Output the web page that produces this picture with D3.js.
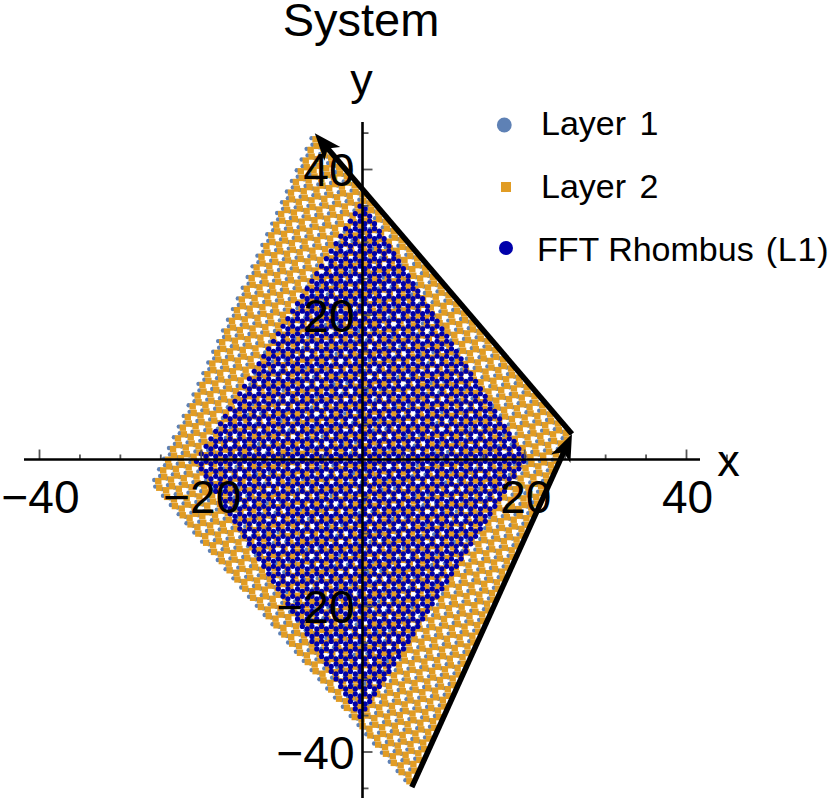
<!doctype html>
<html>
<head>
<meta charset="utf-8">
<style>
    html, body { margin: 0; padding: 0; background: white; }
    svg { display: block; }
    text { font-family: "Liberation Sans", Arial, sans-serif; fill: black; }
</style>
<script src="https://d3js.org/d3.v7.min.js"></script>
</head>
<body>
<svg id="chart" width="831" height="798"></svg>
<script>
// values
var majorTicks = [-40, -20, 20, 40];
var minorTicks = [-45, -35, -30, -25, -15, -10, -5, 5, 10, 15, 25, 30, 35, 45];
var legendLabels = ["Layer 1", "Layer 2", "FFT Rhombus (L1)"];
// corners of the sample, order: bottom, right, top, left
var outerX = [6.1, 25.9, -5.9, -26.0];
var outerY = [-44.9, 3.6, 44.9, -3.6];
// corners of the FFT rhombus, order: bottom, right, top, left
var innerX = [0, 20.78, 0, -20.78];
var innerY = [-36, 0, 36, 0];
// honeycomb sites cannot be read one by one, they are enumerated from lattice constants
var outerLattice = 1.588, outerTwist = 7.5;
var fftLattice = 1.19;
var layer1ShiftX = -0.5, layer1ShiftY = 0.15;
var fftOriginX = -0.3, fftOriginY = 0.2;

var svg = d3.select("#chart");
var x = d3.scaleLinear().domain([-40, 40]).range([39, 686]);
var y = d3.scaleLinear().domain([-40, 40]).range([751.5, 169]);

function sites(xs, ys, a, twist, ox, oy) {
    var ex = xs[1] - xs[0], ey = ys[1] - ys[0];
    var fx = xs[3] - xs[0], fy = ys[3] - ys[0];
    var det = ex * fy - ey * fx;
    var bond = a / Math.sqrt(3);
    var c = Math.cos(twist * Math.PI / 180), s = Math.sin(twist * Math.PI / 180);
    var out = [];
    for (var i = -90; i <= 90; i++) {
        for (var j = -90; j <= 90; j++) {
            [0, 1].forEach(function(b) {
                var qx = a * (i + j / 2);
                var qy = 1.5 * bond * j + b * bond - bond / 2;
                var px = c * qx - s * qy + ox;
                var py = s * qx + c * qy + oy;
                var u = ((px - xs[0]) * fy - (py - ys[0]) * fx) / det;
                var v = (ex * (py - ys[0]) - ey * (px - xs[0])) / det;
                if (u >= 0 && u < 1 && v >= 0 && v < 1) out.push([px, py]);
            });
        }
    }
    return out;
}

var layer2 = sites(outerX, outerY, outerLattice, outerTwist, 0, 0);
var layer1 = layer2.map(function(d) { return [d[0] + layer1ShiftX, d[1] + layer1ShiftY]; });
var fft = sites(innerX, innerY, fftLattice, 0, fftOriginX, fftOriginY);

svg.append("g").selectAll("circle")
    .data(layer1).enter().append("circle")
    .attr("cx", function(d) { return x(d[0]); })
    .attr("cy", function(d) { return y(d[1]); })
    .attr("r", 2.2)
    .attr("fill", "#5E81B5");

svg.append("g").selectAll("rect")
    .data(layer2).enter().append("rect")
    .attr("x", function(d) { return x(d[0]) - 3.2; })
    .attr("y", function(d) { return y(d[1]) - 3.2; })
    .attr("width", 6.4)
    .attr("height", 6.4)
    .attr("fill", "#E19C24");

svg.append("g").selectAll("circle")
    .data(fft).enter().append("circle")
    .attr("cx", function(d) { return x(d[0]); })
    .attr("cy", function(d) { return y(d[1]); })
    .attr("r", 2.6)
    .attr("fill", "#0000AA");

// axes
function drawAxis(g, gen) {
    g.call(gen);
    g.select(".domain").remove();
    g.selectAll("line").attr("stroke", "#555").attr("stroke-width", 1.8);
}
var xRow = svg.append("g").attr("transform", "translate(0,459.5)");
var yCol = svg.append("g").attr("transform", "translate(362.5,0)");
drawAxis(xRow.append("g"), d3.axisTop(x).tickValues(minorTicks).tickSize(5).tickFormat(""));
drawAxis(xRow.append("g"), d3.axisTop(x).tickValues(majorTicks).tickSize(10).tickFormat(""));
drawAxis(yCol.append("g"), d3.axisRight(y).tickValues(minorTicks).tickSize(6).tickFormat(""));
drawAxis(yCol.append("g"), d3.axisRight(y).tickValues(majorTicks).tickSize(10).tickFormat(""));

xRow.append("line").attr("x1", 24).attr("x2", 700).attr("stroke", "black").attr("stroke-width", 2.6);
yCol.append("line").attr("y1", 122).attr("y2", 798).attr("stroke", "black").attr("stroke-width", 2.6);

// arrows: bottom to right corner, right to top corner
svg.append("defs").append("marker")
    .attr("id", "head")
    .attr("markerUnits", "userSpaceOnUse")
    .attr("markerWidth", 34).attr("markerHeight", 28)
    .attr("viewBox", "-30 -14 32 28")
    .attr("refX", 0).attr("refY", 0)
    .attr("orient", "auto")
    .append("path")
    .attr("d", "M0,0L-27,-10.5L-20,0L-27,10.5Z")
    .attr("fill", "black");

[[0, 1], [1, 2]].forEach(function(c) {
    var x0 = x(outerX[c[0]]), y0 = y(outerY[c[0]]);
    var x1 = x(outerX[c[1]]), y1 = y(outerY[c[1]]);
    var len = Math.hypot(x1 - x0, y1 - y0);
    svg.append("line")
       .attr("x1", x0).attr("y1", y0)
       .attr("x2", x1 - (x1 - x0) * 12 / len).attr("y2", y1 - (y1 - y0) * 12 / len)
       .attr("stroke", "black").attr("stroke-width", 5.5);
    svg.append("path")
       .attr("d", "M" + x0 + "," + y0 + "L" + x1 + "," + y1)
       .attr("fill", "none").attr("marker-end", "url(#head)");
});

// tick labels sit on top of everything
var xLabels = svg.append("g").attr("transform", "translate(1,459.5)")
    .call(d3.axisBottom(x).tickValues(majorTicks).tickSize(0).tickPadding(21));
xLabels.select(".domain").remove();
xLabels.selectAll("text").attr("font-size", 46).style("font-family", "Liberation Sans");
var yLabels = svg.append("g").attr("transform", "translate(362.5,0)")
    .call(d3.axisLeft(y).tickValues(majorTicks).tickSize(0).tickPadding(8));
yLabels.select(".domain").remove();
yLabels.selectAll("text").attr("font-size", 46).attr("dy", "0.36em").style("font-family", "Liberation Sans");

svg.append("text").attr("x", 361).attr("y", 36).attr("text-anchor", "middle").attr("font-size", 47).text("System");
svg.append("text").attr("x", 361.5).attr("y", 95).attr("text-anchor", "middle").attr("font-size", 45).text("y");
svg.append("text").attr("x", 728.5).attr("y", 476).attr("text-anchor", "middle").attr("font-size", 45).text("x");

// legend
var legendY = [135, 198, 261];
var legendX = [541, 541, 537];
svg.append("g").selectAll("text")
    .data(legendLabels).enter().append("text")
    .attr("x", function(d, i) { return legendX[i]; })
    .attr("y", function(d, i) { return legendY[i]; })
    .attr("font-size", 34)
    .attr("word-spacing", function(d, i) { return i < 2 ? 4 : 0; })
    .each(function(d) {
        var cut = d.indexOf("(");
        if (cut < 0) { d3.select(this).text(d); return; }
        d3.select(this).append("tspan").text(d.slice(0, cut - 1));
        d3.select(this).append("tspan").attr("dx", 12).attr("letter-spacing", 0.8).text(d.slice(cut));
    });
svg.append("circle").attr("cx", 504.3).attr("cy", 125).attr("r", 7.4).attr("fill", "#5E81B5");
svg.append("rect").attr("x", 501).attr("y", 182).attr("width", 10).attr("height", 10).attr("fill", "#E19C24");
svg.append("circle").attr("cx", 506).attr("cy", 248).attr("r", 7).attr("fill", "#0000AA");
</script>
</body>
</html>
